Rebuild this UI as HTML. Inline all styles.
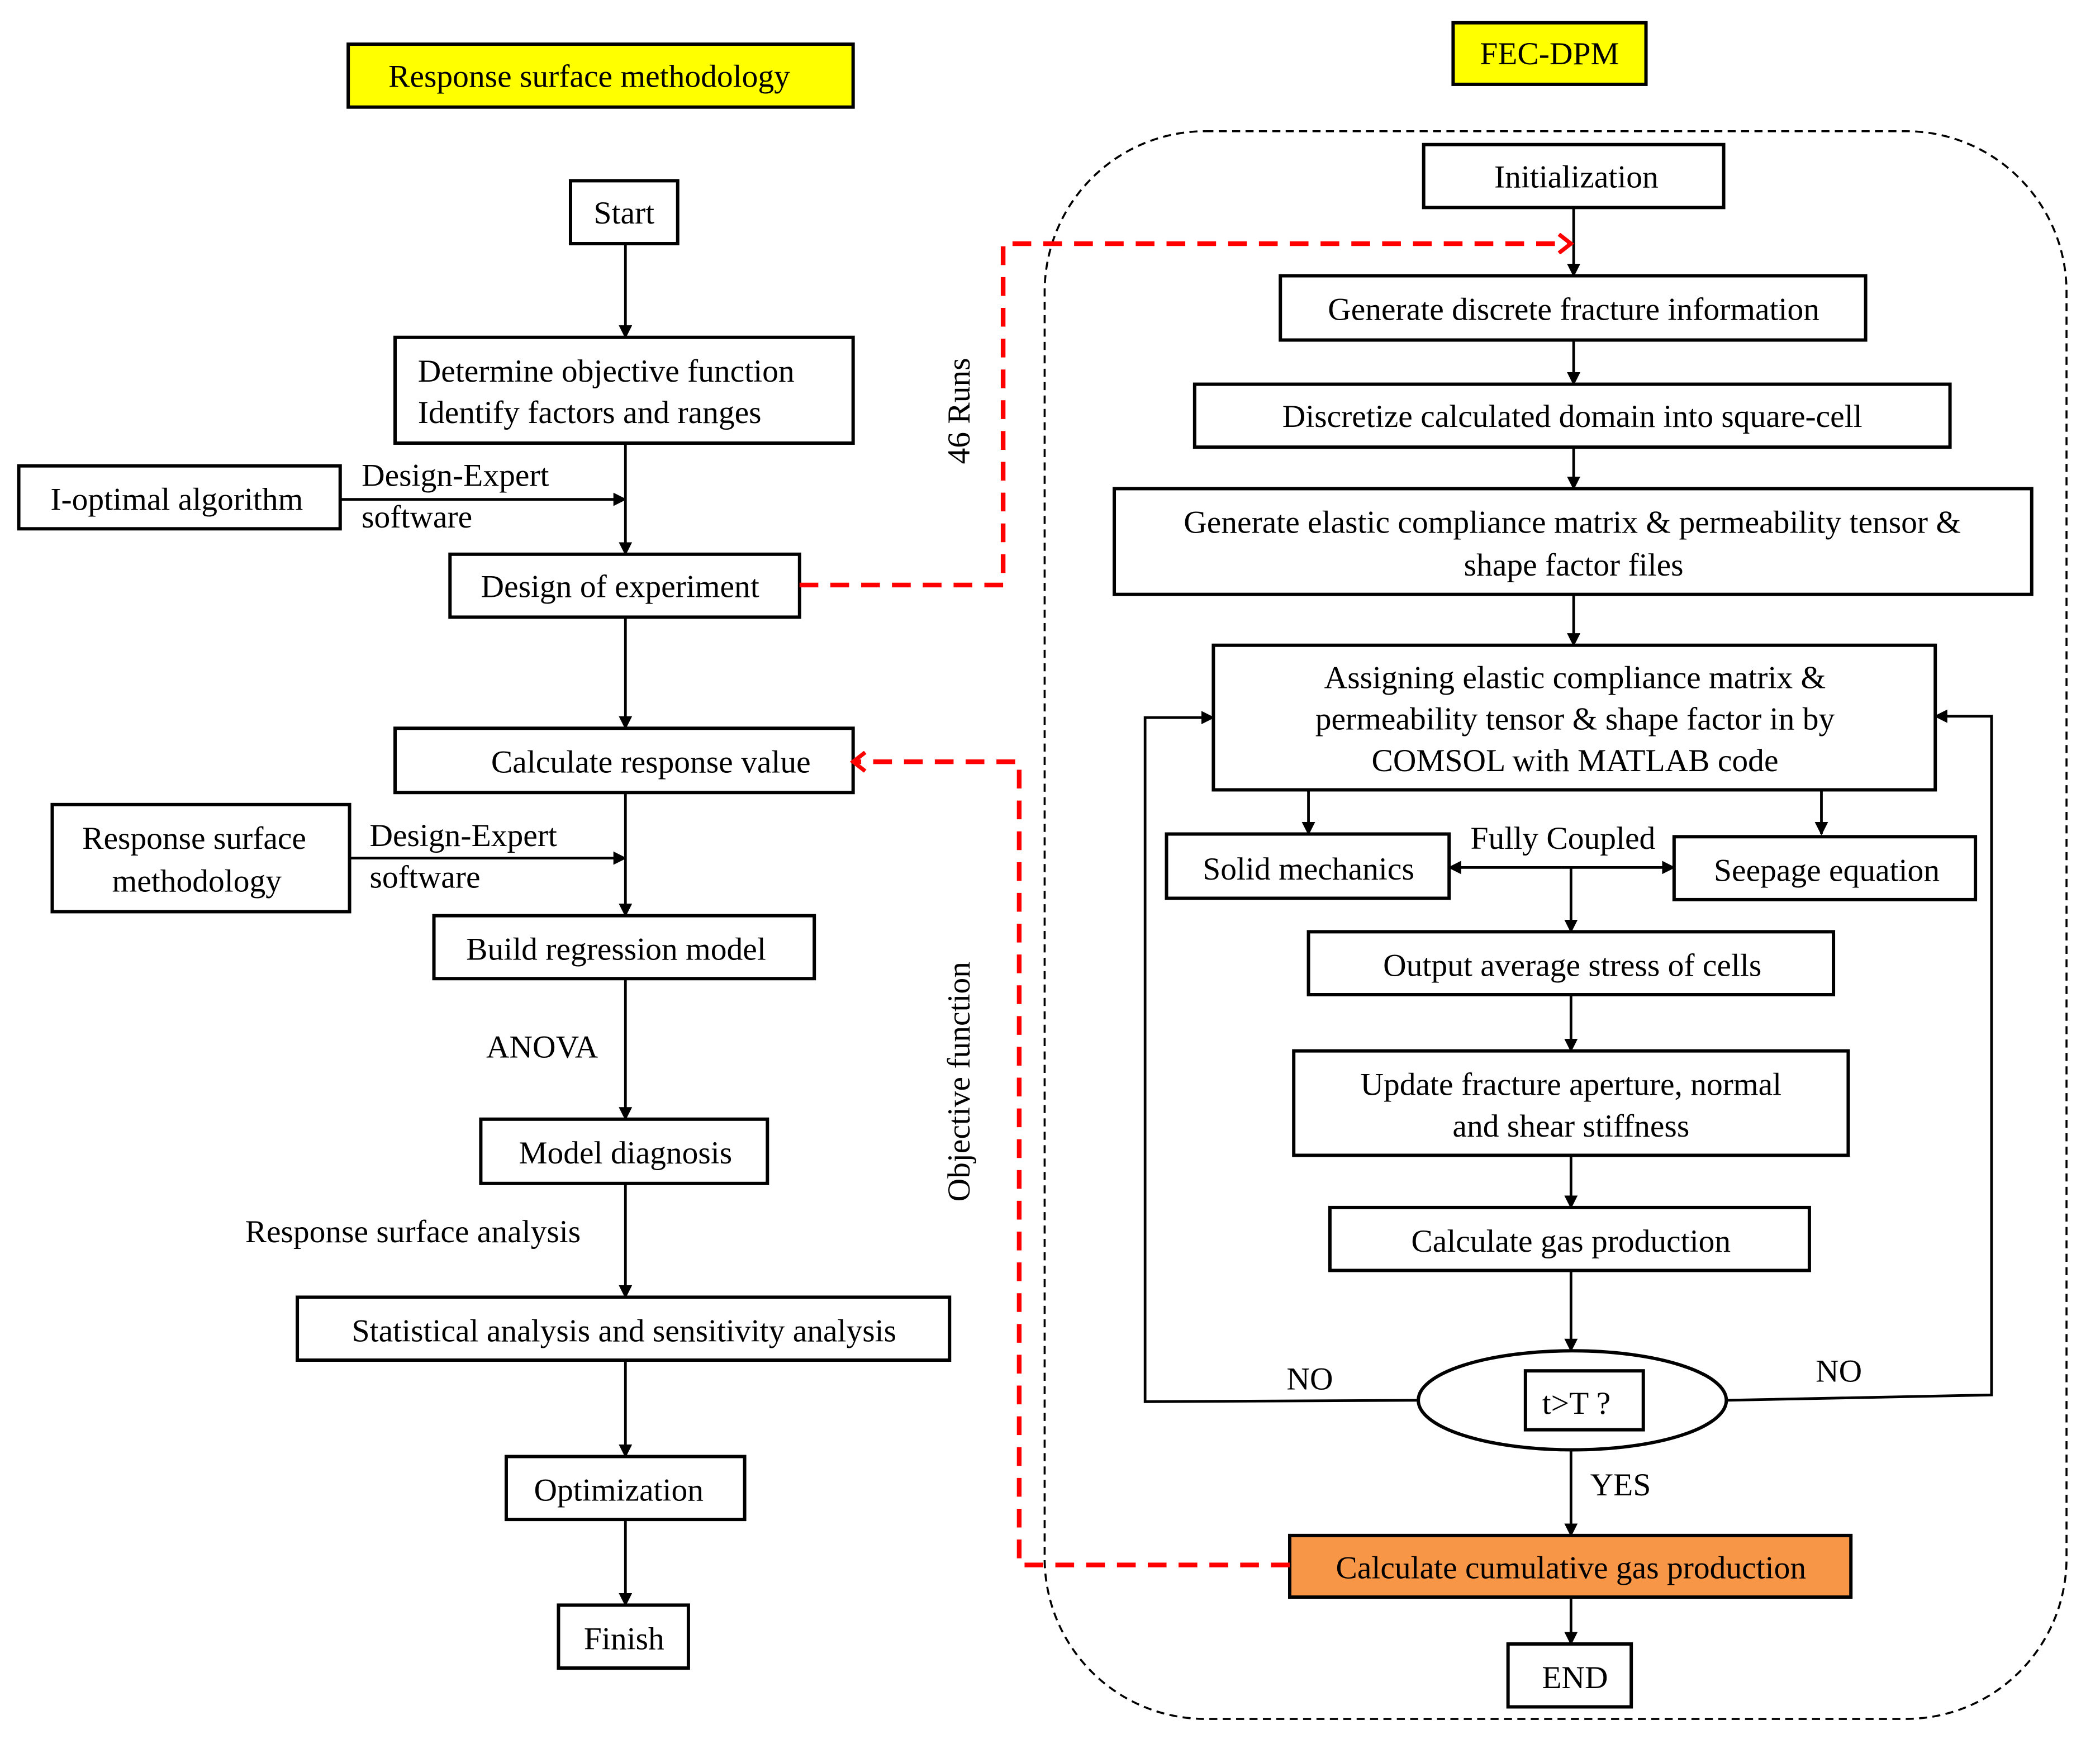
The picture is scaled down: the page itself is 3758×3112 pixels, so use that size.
<!DOCTYPE html>
<html><head><meta charset="utf-8"><style>html,body{margin:0;padding:0;background:#fff}svg{display:block}</style></head>
<body>
<svg width="3758" height="3112" viewBox="0 0 1568 1299" preserveAspectRatio="none" xmlns="http://www.w3.org/2000/svg" font-family="Liberation Serif, serif" font-size="24">
<defs>
<marker id="a" markerWidth="10" markerHeight="10" refX="9" refY="5" orient="auto" markerUnits="userSpaceOnUse"><path d="M0,0 L10,5 L0,10 z" fill="#000"/></marker>
<marker id="r" markerWidth="14" markerHeight="16" refX="11" refY="8" orient="auto" markerUnits="userSpaceOnUse"><path d="M2,1 L11,8 L2,15" fill="none" stroke="#f00" stroke-width="3"/></marker>
</defs>
<g fill="none" stroke="#000" stroke-width="2.5">
<rect x="260" y="33" width="377" height="47" fill="#ffff00"/>
<rect x="1085" y="17" width="144" height="46" fill="#ffff00"/>
<rect x="780" y="98" width="763" height="1186" rx="120" ry="120" stroke-width="1.5" stroke-dasharray="6,4"/>
<rect x="426" y="135" width="80" height="47"/>
<rect x="295" y="252" width="342" height="79"/>
<rect x="14" y="348" width="240" height="47"/>
<rect x="336" y="414" width="261" height="47"/>
<rect x="295" y="544" width="342" height="48"/>
<rect x="39" y="601" width="222" height="80"/>
<rect x="324" y="684" width="284" height="47"/>
<rect x="359" y="836" width="214" height="48"/>
<rect x="222" y="969" width="487" height="47"/>
<rect x="378" y="1088" width="178" height="47"/>
<rect x="417" y="1199" width="97" height="47"/>
<rect x="1063" y="108" width="224" height="47"/>
<rect x="956" y="206" width="437" height="48"/>
<rect x="892" y="287" width="564" height="47"/>
<rect x="832" y="365" width="685" height="79"/>
<rect x="906" y="482" width="539" height="108"/>
<rect x="871" y="623" width="211" height="48"/>
<rect x="1250" y="625" width="225" height="47"/>
<rect x="977" y="696" width="392" height="47"/>
<rect x="966" y="785" width="414" height="78"/>
<rect x="993" y="902" width="358" height="47"/>
<ellipse cx="1174" cy="1046" rx="115" ry="37"/>
<rect x="1139" y="1024" width="88" height="44"/>
<rect x="963" y="1147" width="419" height="46" fill="#f79646"/>
<rect x="1126" y="1228" width="92" height="47"/>
</g>
<g stroke="#000" stroke-width="2" fill="none">
<line x1="467" y1="182" x2="467" y2="252" marker-end="url(#a)"/>
<line x1="467" y1="331" x2="467" y2="414" marker-end="url(#a)"/>
<line x1="254" y1="373" x2="467" y2="373" marker-end="url(#a)"/>
<line x1="467" y1="461" x2="467" y2="544" marker-end="url(#a)"/>
<line x1="467" y1="592" x2="467" y2="684" marker-end="url(#a)"/>
<line x1="261" y1="641" x2="467" y2="641" marker-end="url(#a)"/>
<line x1="467" y1="731" x2="467" y2="836" marker-end="url(#a)"/>
<line x1="467" y1="884" x2="467" y2="969" marker-end="url(#a)"/>
<line x1="467" y1="1016" x2="467" y2="1088" marker-end="url(#a)"/>
<line x1="467" y1="1135" x2="467" y2="1199" marker-end="url(#a)"/>
<line x1="1175" y1="155" x2="1175" y2="206" marker-end="url(#a)"/>
<line x1="1175" y1="254" x2="1175" y2="287" marker-end="url(#a)"/>
<line x1="1175" y1="334" x2="1175" y2="365" marker-end="url(#a)"/>
<line x1="1175" y1="444" x2="1175" y2="482" marker-end="url(#a)"/>
<line x1="977" y1="590" x2="977" y2="623" marker-end="url(#a)"/>
<line x1="1360" y1="590" x2="1360" y2="623" marker-end="url(#a)"/>
<line x1="1166" y1="648" x2="1082" y2="648" marker-end="url(#a)"/>
<line x1="1166" y1="648" x2="1250" y2="648" marker-end="url(#a)"/>
<line x1="1173" y1="648" x2="1173" y2="696" marker-end="url(#a)"/>
<line x1="1173" y1="743" x2="1173" y2="785" marker-end="url(#a)"/>
<line x1="1173" y1="863" x2="1173" y2="902" marker-end="url(#a)"/>
<line x1="1173" y1="949" x2="1173" y2="1009" marker-end="url(#a)"/>
<line x1="1173" y1="1083" x2="1173" y2="1147" marker-end="url(#a)"/>
<line x1="1173" y1="1193" x2="1173" y2="1228" marker-end="url(#a)"/>
<polyline points="1059,1046 855,1047 855,536 906,536" marker-end="url(#a)"/>
<polyline points="1289,1046 1487,1042 1487,535 1445,535" marker-end="url(#a)"/>
</g>
<g stroke="#f00" stroke-width="3.5" fill="none" stroke-dasharray="14,9">
<polyline points="597,437 749,437 749,182 1173,182" marker-end="url(#r)"/>
<polyline points="963,1169 761,1169 761,569 637,569" marker-end="url(#r)"/>
</g>
<g fill="#000">
<text x="440" y="65" text-anchor="middle">Response surface  methodology</text>
<text x="1157" y="48" text-anchor="middle">FEC-DPM</text>
<text x="466" y="167" text-anchor="middle">Start</text>
<text x="312" y="285">Determine  objective function</text>
<text x="312" y="316">Identify  factors and ranges</text>
<text x="132" y="381" text-anchor="middle">I-optimal  algorithm</text>
<text x="270" y="363">Design-Expert</text>
<text x="270" y="394">software</text>
<text x="463" y="446" text-anchor="middle">Design of experiment</text>
<text x="486" y="577" text-anchor="middle">Calculate response value</text>
<text x="145" y="634" text-anchor="middle">Response surface</text>
<text x="147" y="666" text-anchor="middle">methodology</text>
<text x="276" y="632">Design-Expert</text>
<text x="276" y="663">software</text>
<text x="460" y="717" text-anchor="middle">Build regression model</text>
<text x="363" y="790">ANOVA</text>
<text x="467" y="869" text-anchor="middle">Model diagnosis</text>
<text x="183" y="928">Response surface analysis</text>
<text x="466" y="1002" text-anchor="middle">Statistical analysis and sensitivity analysis</text>
<text x="462" y="1121" text-anchor="middle">Optimization</text>
<text x="466" y="1232" text-anchor="middle">Finish</text>
<text transform="translate(724,307) rotate(-90)" text-anchor="middle">46 Runs</text>
<text transform="translate(724,808) rotate(-90)" text-anchor="middle">Objective function</text>
<text x="1177" y="140" text-anchor="middle">Initialization</text>
<text x="1175" y="239" text-anchor="middle">Generate discrete fracture information</text>
<text x="1174" y="319" text-anchor="middle">Discretize calculated domain into square-cell</text>
<text x="1174" y="398" text-anchor="middle">Generate elastic compliance matrix &amp; permeability tensor &amp;</text>
<text x="1175" y="430" text-anchor="middle">shape factor files</text>
<text x="1176" y="514" text-anchor="middle">Assigning elastic compliance matrix &amp;</text>
<text x="1176" y="545" text-anchor="middle">permeability tensor &amp; shape factor in by</text>
<text x="1176" y="576" text-anchor="middle">COMSOL with MATLAB code</text>
<text x="977" y="657" text-anchor="middle">Solid mechanics</text>
<text x="1364" y="658" text-anchor="middle">Seepage equation</text>
<text x="1167" y="634" text-anchor="middle">Fully Coupled</text>
<text x="1174" y="729" text-anchor="middle">Output  average stress of cells</text>
<text x="1173" y="818" text-anchor="middle">Update fracture aperture, normal</text>
<text x="1173" y="849" text-anchor="middle">and shear stiffness</text>
<text x="1173" y="935" text-anchor="middle">Calculate gas production</text>
<text x="1177" y="1056" text-anchor="middle">t&gt;T ?</text>
<text x="978" y="1038" text-anchor="middle">NO</text>
<text x="1373" y="1032" text-anchor="middle">NO</text>
<text x="1210" y="1117" text-anchor="middle">YES</text>
<text x="1173" y="1179" text-anchor="middle">Calculate cumulative  gas production</text>
<text x="1176" y="1261" text-anchor="middle">END</text>
</g>
</svg>
</body></html>
